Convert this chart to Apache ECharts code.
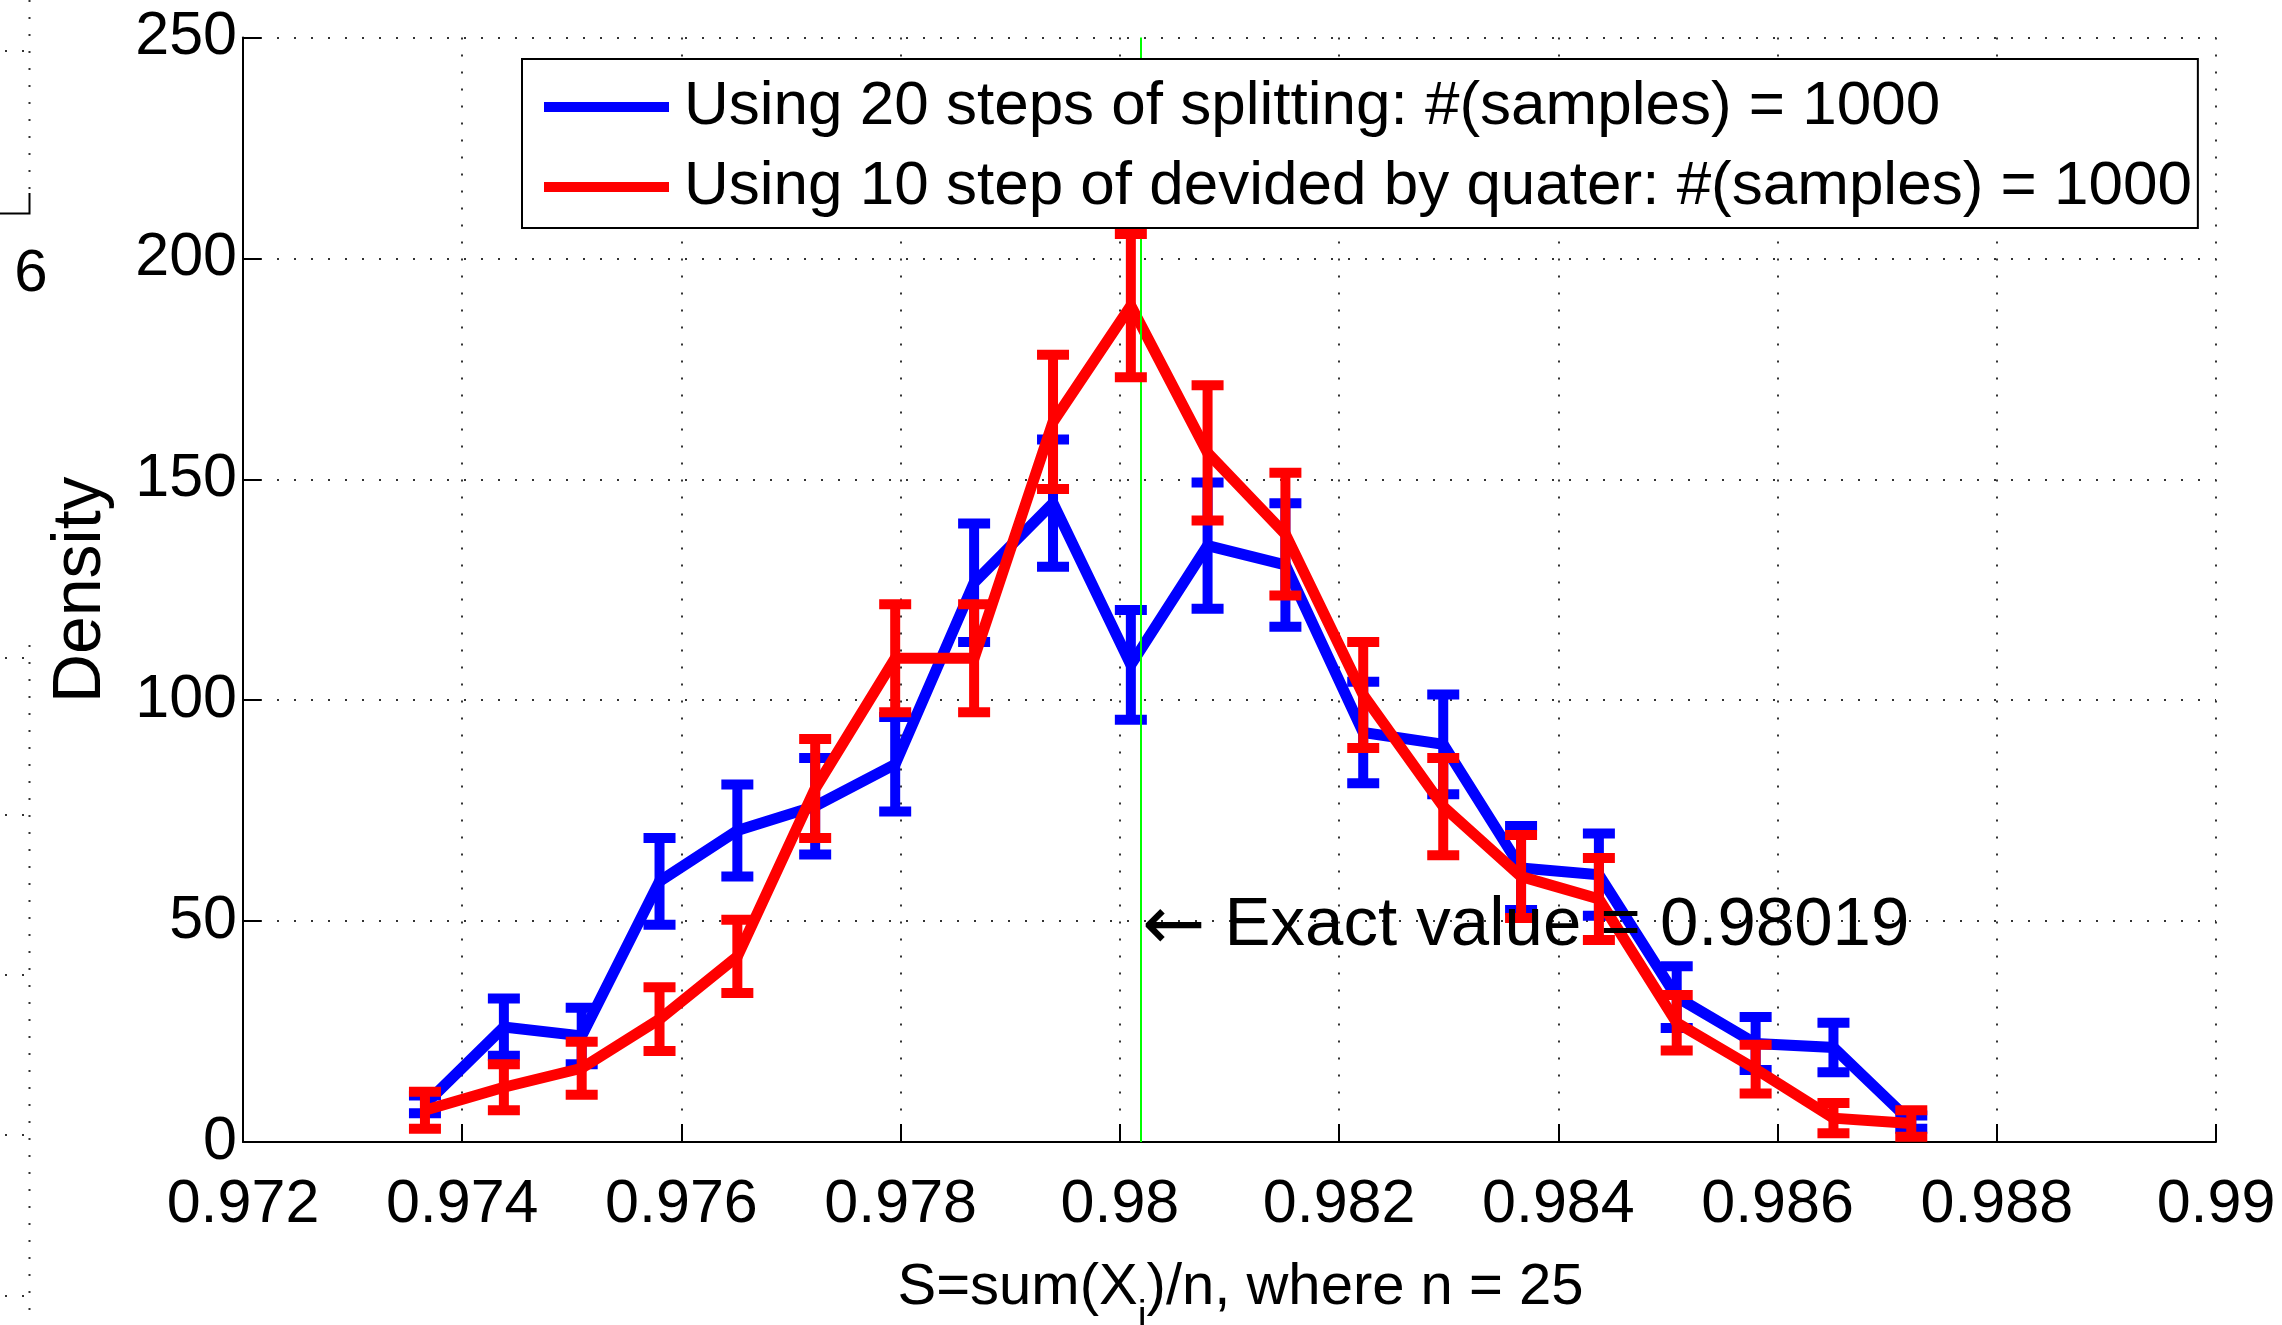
<!DOCTYPE html>
<html>
<head>
<meta charset="utf-8">
<title>Density of S</title>
<script src="https://cdn.jsdelivr.net/npm/echarts@6/dist/echarts.min.js"></script>
<style>
  html, body { margin: 0; padding: 0; background: #fff; }
  #chart { width: 2282px; height: 1325px; }
</style>
</head>
<body>
<div id="chart"></div>
<script>
// bin centres of S
const binCenters = [0.97366, 0.97438, 0.97509, 0.97580, 0.97651, 0.97722, 0.97795, 0.97867, 0.97939, 0.98010,
  0.98080, 0.98151, 0.98222, 0.98295, 0.98366, 0.98437, 0.98508, 0.98580, 0.98651, 0.98722]

// blue: 20 steps of splitting
const splitDensity = [8.5, 26, 24, 59, 70.5, 76, 85.5, 126.6, 144.6, 108, 135, 130.6, 92.7, 90, 62, 60.5, 32.8, 22.3, 21.4, 4.5]
const splitErr = [2, 6.5, 6.4, 9.8, 10.4, 10.9, 10.7, 13.4, 14.4, 12.4, 14.3, 14, 11.5, 11.3, 9.5, 9.3, 7, 6, 5.6, 1.5]

// red: 10 steps of divided by quarter
const quarterDensity = [7.2, 12.4, 16.7, 27.8, 42, 80, 109.5, 109.5, 163, 189.3, 156, 137.6, 101.2, 75.9, 60.1, 55, 27, 16.5, 5.4, 4.2]
const quarterErr = [4.2, 5.2, 6, 7.2, 8.3, 11.2, 12.2, 12.2, 15.2, 16.2, 15.3, 13.9, 12, 11, 9.4, 9.3, 6.3, 5.5, 3.4, 3]

const seriesNames = [
  'Using 20 steps of splitting: #(samples) = 1000',
  'Using 10 step of devided by quater: #(samples) = 1000'
]
const exactValue = 0.98019
const exactLabelY = 49

const font = '"Liberation Sans", Arial, Helvetica, sans-serif'
const chart = echarts.init(document.getElementById('chart'))

function errorBarItem(params, api) {
  const x = api.value(0)
  const lo = api.coord([x, api.value(1)])
  const hi = api.coord([x, api.value(2)])
  const color = api.visual('color')
  const half = 16
  return {
    type: 'group',
    children: [
      { type: 'line', shape: { x1: lo[0], y1: lo[1], x2: hi[0], y2: hi[1] }, style: { stroke: color, lineWidth: 10 } },
      { type: 'line', shape: { x1: hi[0] - half, y1: hi[1], x2: hi[0] + half, y2: hi[1] }, style: { stroke: color, lineWidth: 10 } },
      { type: 'line', shape: { x1: lo[0] - half, y1: lo[1], x2: lo[0] + half, y2: lo[1] }, style: { stroke: color, lineWidth: 10 } }
    ]
  }
}

function lineData(mean) {
  return binCenters.map((x, i) => [x, mean[i]])
}
function barData(mean, err) {
  return binCenters.map((x, i) => [x, mean[i] - err[i], mean[i] + err[i]])
}

const gridDots = { type: [2, 15], color: '#333', width: 2 }

chart.setOption({
  animation: false,
  backgroundColor: '#fff',
  textStyle: { fontFamily: font },
  grid: { left: 243, right: 66, top: 37.5, bottom: 183, containLabel: false, outerBoundsMode: 'none' },
  legend: {
    data: seriesNames,
    orient: 'vertical',
    left: 522,
    top: 59,
    padding: [17, 6, 10, 22],
    itemGap: 18,
    itemWidth: 125,
    itemHeight: 10,
    icon: 'rect',
    borderColor: '#000',
    borderWidth: 2,
    borderRadius: 0,
    backgroundColor: '#fff',
    selectedMode: false,
    z: 20,
    textStyle: { fontSize: 62, lineHeight: 60, color: '#000', fontFamily: font, padding: [0, 0, 0, 10] }
  },
  xAxis: {
    type: 'value',
    min: 0.972,
    max: 0.99,
    interval: 0.002,
    axisLine: { lineStyle: { color: '#000', width: 2 } },
    axisTick: { inside: true, length: 18, lineStyle: { color: '#000', width: 2 } },
    axisLabel: {
      fontSize: 61, color: '#000', margin: 33, fontFamily: font,
      formatter: v => String(+v.toFixed(3))
    },
    splitLine: { show: true, lineStyle: gridDots },
    name: '{a|S=sum(X}{b|i}{a|)/n, where n = 25}',
    nameLocation: 'middle',
    nameGap: 96,
    nameTextStyle: {
      padding: [0, 0, 0, 22],
      rich: {
        a: { fontSize: 58, color: '#000', fontFamily: font },
        b: { fontSize: 40, color: '#000', fontFamily: font, padding: [60, 0, 0, 0] }
      }
    }
  },
  yAxis: {
    type: 'value',
    min: 0,
    max: 250,
    interval: 50,
    axisLine: { show: true, lineStyle: { color: '#000', width: 2 } },
    axisTick: { show: true, inside: true, length: 18, lineStyle: { color: '#000', width: 2 } },
    axisLabel: { fontSize: 61, color: '#000', margin: 6, fontFamily: font },
    splitLine: { show: true, lineStyle: gridDots },
    name: 'Density',
    nameLocation: 'middle',
    nameGap: 128,
    nameTextStyle: { fontSize: 68, color: '#000', fontFamily: font }
  },
  series: [
    {
      name: seriesNames[0],
      type: 'line',
      data: lineData(splitDensity),
      symbol: 'none',
      z: 2,
      itemStyle: { color: '#0000ff' },
      lineStyle: { color: '#0000ff', width: 11, join: 'miter' }
    },
    {
      name: 'split-err',
      type: 'custom',
      data: barData(splitDensity, splitErr),
      renderItem: errorBarItem,
      encode: { x: 0, y: [1, 2] },
      z: 3,
      itemStyle: { color: '#0000ff' }
    },
    {
      name: seriesNames[1],
      type: 'line',
      data: lineData(quarterDensity),
      symbol: 'none',
      z: 4,
      itemStyle: { color: '#ff0000' },
      lineStyle: { color: '#ff0000', width: 11, join: 'miter' }
    },
    {
      name: 'quarter-err',
      type: 'custom',
      data: barData(quarterDensity, quarterErr),
      renderItem: errorBarItem,
      encode: { x: 0, y: [1, 2] },
      z: 5,
      itemStyle: { color: '#ff0000' }
    },
    {
      name: 'exact',
      type: 'scatter',
      data: [[exactValue, exactLabelY]],
      symbolSize: 0,
      z: 10,
      itemStyle: { color: '#000', opacity: 1 },
      label: {
        show: true,
        position: 'right',
        distance: 1,
        formatter: '{arr|\u2190}{t| Exact value = 0.98019}',
        color: '#000',
        rich: {
          arr: { fontSize: 76, color: '#000', fontFamily: '"DejaVu Sans", sans-serif', padding: [8, 0, 0, 0] },
          t: { fontSize: 69, color: '#000', fontFamily: font }
        }
      },
      markLine: {
        silent: true,
        symbol: 'none',
        precision: 5,
        label: { show: false },
        lineStyle: { color: '#00ff00', width: 2, type: 'solid' },
        data: [{ xAxis: exactValue }]
      }
    }
  ],
  // leftovers of the neighbouring panel on the left edge
  graphic: [
    { type: 'line', shape: { x1: 29.5, y1: 0, x2: 29.5, y2: 193 }, style: { stroke: '#333', lineWidth: 2, lineDash: [2, 15] } },
    { type: 'line', shape: { x1: 29.5, y1: 645, x2: 29.5, y2: 1325 }, style: { stroke: '#333', lineWidth: 2, lineDash: [2, 15] } },
    { type: 'polyline', shape: { points: [[29.5, 193], [29.5, 213.5], [0, 213.5]] }, style: { stroke: '#000', lineWidth: 2, fill: null } },
    { type: 'text', x: 31, y: 274, style: { text: '6', fill: '#000', font: '60px ' + font, align: 'center', verticalAlign: 'middle' } },
    ...[51, 658, 815, 975, 1135, 1296].map(y => ({
      type: 'line', shape: { x1: 5, y1: y, x2: 29, y2: y }, style: { stroke: '#333', lineWidth: 2, lineDash: [2, 15] }
    }))
  ]
})
</script>
</body>
</html>
